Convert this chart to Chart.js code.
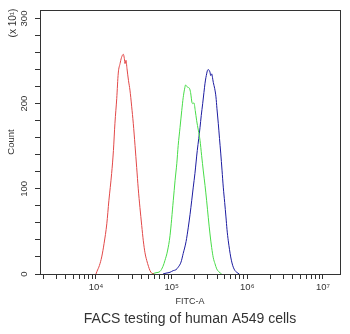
<!DOCTYPE html>
<html>
<head>
<meta charset="utf-8">
<style>
  html, body { margin: 0; padding: 0; background: #fff; }
  #wrap { width: 350px; height: 334px; }
</style>
<script src="https://cdn.jsdelivr.net/npm/chart.js@4.4.1/dist/chart.umd.min.js"></script>
</head>
<body>
<div id="wrap"><canvas id="c" width="350" height="334"></canvas></div>
<script>
// FITC-A intensity (x) and event count in units of 10^1 (y) for each histogram
const redX = [10000, 10300, 11100, 11900, 12800, 13900, 14800, 16100, 17000, 17800, 18800, 19700, 20800, 21700, 23000, 23700, 24200, 24900, 25700, 26900, 28100, 29600, 31100, 32800, 34500, 36200, 38100, 40200, 42200, 44400, 46800, 49400, 51700, 54500, 58400];
const redY = [0, 3, 10, 20, 36, 59, 86, 118, 145, 177, 206, 236, 247, 254, 258, 253, 247, 251, 241, 227, 216, 197, 177, 151, 125, 100, 78, 57, 39, 25, 16, 9, 4, 1, 0];

const greenX = [54500, 62100, 70100, 76800, 81600, 88100, 95100, 105000, 111000, 117000, 122000, 129000, 136000, 142000, 148000, 153000, 159000, 166000, 172000, 178000, 186000, 191000, 197000, 205000, 214000, 225000, 237000, 249000, 262000, 276000, 290000, 305000, 321000, 338000, 355000, 374000, 394000, 416000, 458000];
const greenY = [0, 1.5, 3, 9, 16, 27, 45, 86, 110, 130, 151, 172, 192, 207, 217, 222, 220, 219, 218, 213, 201, 200, 201, 192, 180, 169, 157, 139, 121, 104, 86, 66, 47, 31, 19, 12, 6, 3, 0];

const blueX = [76800, 84200, 95100, 105000, 114000, 122000, 133000, 142000, 155000, 166000, 175000, 184000, 193000, 203000, 218000, 228000, 237000, 246000, 257000, 267000, 276000, 284000, 290000, 297000, 305000, 314000, 321000, 328000, 338000, 346000, 355000, 370000, 385000, 397000, 413000, 429000, 445000, 463000, 481000, 502000, 522000, 539000, 560000, 581000, 603000, 627000, 652000, 687000, 723000, 783000];
const blueY = [0, 1, 2, 4, 5, 8, 14, 24, 38, 55, 70, 86, 102, 118, 145, 159, 172, 186, 200, 213, 224, 231, 235, 239, 240, 239, 237, 233, 235, 231, 225, 218, 208, 194, 177, 159, 142, 122, 102, 84, 67, 52, 39, 29, 20, 13, 8, 4, 2, 0];

// Axis ticks
const xMajorTicks = [10000, 100000, 1000000, 10000000];
const xMinorSteps = [2, 3, 4, 5, 6, 7, 8, 9];
const yTickValues = [0, 20, 40, 60, 80, 100, 120, 140, 160, 180, 200, 220, 240, 260, 280, 300];
const yLabelValues = [0, 100, 200, 300];

const X_MIN = 1820, X_MAX = 16777216, Y_MAX = 310;
const FONT = '"Liberation Sans", Arial, Helvetica, sans-serif';
const INK = '#333333';

const SUP = { '0': '\u2070', '1': '\u00B9', '2': '\u00B2', '3': '\u00B3', '4': '\u2074', '5': '\u2075', '6': '\u2076', '7': '\u2077', '8': '\u2078', '9': '\u2079' };
function decadeLabel(v) {
  const e = String(Math.round(Math.log10(v)));
  return '10' + e.split('').map(d => SUP[d]).join('');
}

// all x tick positions: 2..9 multiples in each decade plus the decades themselves
const xTickValues = [];
[1000, 10000, 100000, 1000000].forEach(dec => {
  xMinorSteps.forEach(m => { const v = dec * m; if (v > X_MIN && v < X_MAX) xTickValues.push(v); });
  if (dec * 10 < X_MAX) xTickValues.push(dec * 10);
});
xTickValues.sort((a, b) => a - b);

function points(xs, ys) { return xs.map((x, i) => ({ x: x, y: ys[i] })); }

function histogram(label, xs, ys, color) {
  return {
    label: label,
    data: points(xs, ys),
    showLine: true,
    borderColor: color,
    backgroundColor: color,
    borderWidth: 1,
    pointRadius: 0,
    pointHoverRadius: 0,
    cubicInterpolationMode: 'monotone',
    xAxisID: 'x',
    yAxisID: 'y'
  };
}

// multiplier note in the upper-left corner
const scaleNote = {
  id: 'scaleNote',
  afterDraw(chart) {
    const ctx = chart.ctx;
    ctx.save();
    ctx.translate(13, 23);
    ctx.rotate(-Math.PI / 2);
    ctx.font = '10px ' + FONT;
    ctx.fillStyle = INK;
    ctx.textAlign = 'center';
    ctx.textBaseline = 'middle';
    ctx.fillText('(x 10\u00B9)', 0, 0);
    ctx.restore();
  }
};

const frameAxis = (position, fit) => ({
  type: 'linear',
  position: position,
  afterFit: fit,
  ticks: { display: false },
  grid: { display: false, drawTicks: false },
  border: { display: true, color: INK, width: 1 }
});

new Chart(document.getElementById('c'), {
  type: 'scatter',
  data: {
    datasets: [
      histogram('Isotype control', redX, redY, 'rgb(226, 72, 72)'),
      histogram('Sample', greenX, greenY, 'rgb(72, 220, 72)'),
      histogram('Sample 2', blueX, blueY, 'rgb(28, 28, 160)')
    ]
  },
  options: {
    responsive: false,
    devicePixelRatio: 1,
    animation: false,
    events: [],
    layout: { padding: { top: 10, right: 10, left: 0, bottom: 0 } },
    plugins: {
      legend: { display: false },
      tooltip: { enabled: false },
      title: {
        display: true,
        position: 'bottom',
        fullSize: false,
        text: 'FACS testing of human A549 cells',
        color: INK,
        font: { family: FONT, size: 14, weight: 'normal', lineHeight: 1.2 },
        padding: { top: 2, bottom: 6 }
      }
    },
    scales: {
      x: {
        type: 'logarithmic',
        position: 'bottom',
        min: X_MIN,
        max: X_MAX,
        afterFit(s) { s.height = 35.2; },
        afterBuildTicks(s) {
          s.ticks = xTickValues.map(v => ({ value: v, major: xMajorTicks.includes(v) }));
        },
        ticks: {
          autoSkip: false,
          minRotation: 0,
          maxRotation: 0,
          padding: 3,
          color: INK,
          font: { family: FONT, size: 9.5 },
          callback(v) { return xMajorTicks.includes(v) ? decadeLabel(v) : ''; }
        },
        grid: { drawOnChartArea: false, drawTicks: true, tickLength: 5, tickColor: INK, tickWidth: 1 },
        border: { color: INK, width: 1 },
        title: {
          display: true,
          text: 'FITC-A',
          color: INK,
          font: { family: FONT, size: 9 },
          padding: { top: 0, bottom: 2.6 }
        }
      },
      y: {
        type: 'linear',
        position: 'left',
        min: 0,
        max: Y_MAX,
        afterFit(s) { s.width = 40; },
        afterBuildTicks(s) { s.ticks = yTickValues.map(v => ({ value: v })); },
        ticks: {
          autoSkip: false,
          minRotation: 90,
          maxRotation: 90,
          crossAlign: 'center',
          padding: 3,
          color: INK,
          font: { family: FONT, size: 9.5 },
          callback(v) { return yLabelValues.includes(v) ? String(v) : ''; }
        },
        grid: { drawOnChartArea: false, drawTicks: true, tickLength: 5, tickColor: INK, tickWidth: 1 },
        border: { color: INK, width: 1 },
        title: {
          display: true,
          text: 'Count',
          color: INK,
          font: { family: FONT, size: 9.5 },
          padding: { top: 6, bottom: 0 }
        }
      },
      x2: frameAxis('top', s => { s.height = 0; }),
      y2: frameAxis('right', s => { s.width = 0; })
    }
  },
  plugins: [scaleNote]
});
</script>
</body>
</html>
